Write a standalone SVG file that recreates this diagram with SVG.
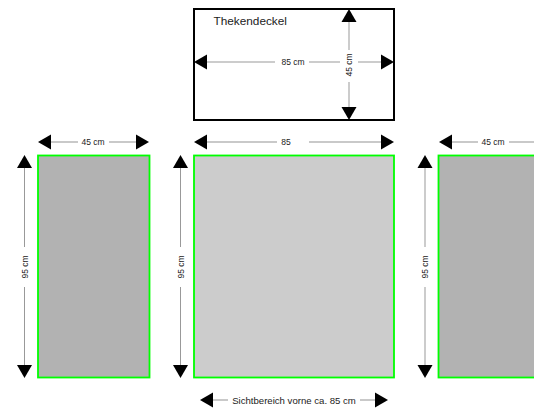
<svg xmlns="http://www.w3.org/2000/svg" width="534" height="410" viewBox="0 0 534 410">
<style>
text{font-family:"Liberation Sans",Arial,sans-serif;fill:#222}
.d{font-size:8.5px;text-anchor:middle}
.l{stroke:#999;stroke-width:1;fill:none}
.lh{stroke:#b8b8b8;stroke-width:1.4;fill:none}
.h{fill:#000}
.p{stroke:#00ff00;stroke-width:1.8}
</style>
<defs>
<path id="al" class="h" d="M0 0L13-7.500V7.500Z"/>
<path id="ar" class="h" d="M0 0L-13-7.500V7.500Z"/>
<path id="au" class="h" d="M0 0L-7.500 13H7.500Z"/>
<path id="ad" class="h" d="M0 0L-7.500-13H7.500Z"/>
</defs>
<g id="thekendeckel">
<rect x="194" y="9" width="200" height="111" fill="#fff" stroke="#000" stroke-width="2"/>
<text x="213.500" y="25" font-size="11.800px">Thekendeckel</text>
</g>
<g id="panel-left"><rect class="p" x="38" y="155.500" width="111.500" height="222" fill="#b2b2b2"/></g>
<g id="panel-center"><rect class="p" x="194" y="155.500" width="200" height="222" fill="#cccccc"/></g>
<g id="panel-right"><rect class="p" x="438.500" y="155.500" width="110" height="222" fill="#b2b2b2"/></g>
<g id="connectors">
<path class="l" d="M205 62H275M309 62H340M358 62H382M349 20V50M349 82V109"/>
<use href="#al" x="194" y="62"/><use href="#ar" x="394" y="62"/>
<use href="#au" x="349" y="9"/><use href="#ad" x="349" y="120"/>
<path class="lh" d="M205 142H277M309 142H384M50 142H78M109 142H139M450 142H478M509 142H534M212 400H228M360 400H376"/>
<use href="#al" x="38" y="142"/><use href="#ar" x="149" y="142"/>
<use href="#al" x="194" y="142"/><use href="#ar" x="394" y="142"/>
<use href="#al" x="439" y="142"/>
<use href="#al" x="200" y="400"/><use href="#ar" x="388" y="400"/>
<path class="l" d="M24.500 166V247M24.500 287V367M180.500 166V247M180.500 287V367M425 166V247M425 287V367"/>
<use href="#au" x="24.500" y="155"/><use href="#ad" x="24.500" y="378"/>
<use href="#au" x="180.500" y="155"/><use href="#ad" x="180.500" y="378"/>
<use href="#au" x="425" y="155"/><use href="#ad" x="425" y="378"/>
</g>
<g id="labels">
<text class="d" x="293" y="65">85 cm</text>
<text class="d" transform="translate(352 65) rotate(-90)">45 cm</text>
<text class="d" x="93" y="145">45 cm</text>
<text class="d" x="286" y="145">85</text>
<text class="d" x="493" y="145">45 cm</text>
<text class="d" transform="translate(27.500 267) rotate(-90)">95 cm</text>
<text class="d" transform="translate(183.500 267) rotate(-90)">95 cm</text>
<text class="d" transform="translate(428 267) rotate(-90)">95 cm</text>
<text class="d" x="294" y="403.500" style="font-size:9.600px">Sichtbereich vorne ca. 85 cm</text>
</g>
</svg>
